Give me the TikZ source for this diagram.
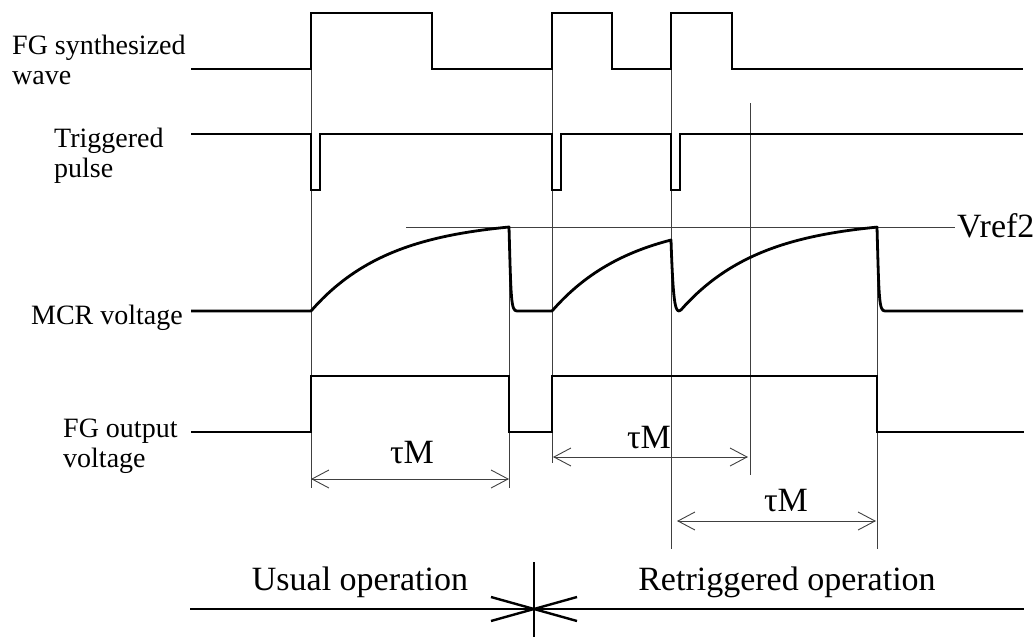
\documentclass[tikz,border=0pt]{standalone}
\usepackage{fontspec}
\setmainfont{Liberation Serif}
\usetikzlibrary{arrows.meta}
\begin{document}
\begin{tikzpicture}[x=1pt,y=-1pt,
  sig/.style={line width=2.8pt, line join=miter},
  guide/.style={line width=0.9pt, black!75},
  barb/.tip={Straight Barb[length=17pt,width=18pt,line width=0.9pt]},
  dim/.style={line width=0.9pt, black!75, barb-barb},
  lab/.style={font=\fontsize{28}{30}\selectfont, inner sep=0pt, anchor=base west},
  big/.style={font=\fontsize{34}{40}\selectfont, inner sep=0pt, anchor=base},
]
\useasboundingbox (0,0) rectangle (1036,637);

% guide lines
\draw[guide] (311,69) -- (311,488);
\draw[guide] (509,227) -- (509,488);
\draw[guide] (552,69) -- (552,463);
\draw[guide] (671,69) -- (671,549);
\draw[guide] (750,103) -- (750,475);
\draw[guide] (877,227) -- (877,549);
\draw[guide] (406,227) -- (955,227);

% FG synthesized wave
\draw[sig] (191,69) -- (311,69) -- (311,13) -- (432,13) -- (432,69) -- (552,69) -- (552,13) -- (612,13) -- (612,69) -- (671,69) -- (671,13) -- (732,13) -- (732,69) -- (1023,69);

% Triggered pulse
\draw[sig] (191,134) -- (311,134) -- (311,190) -- (320,190) -- (320,134) -- (552,134) -- (552,190) -- (561,190) -- (561,134) -- (671,134) -- (671,190) -- (680,190) -- (680,134) -- (1023,134);

% MCR voltage
\draw[sig, line join=round] (191,311) -- (311,311)
  -- plot[domain=0:198,samples=50] ({311+\x},{311-91.7*(1-exp(-\x/80))})
  .. controls (511,300) and (511,311) .. (517,311) -- (552,311)
  -- plot[domain=0:119,samples=40] ({552+\x},{311-91.7*(1-exp(-\x/80))})
  .. controls (673,300) and (675,311) .. (679,311)
  -- plot[domain=1:197,samples=50] ({680+\x},{311-91.7*(1-exp(-\x/80))})
  .. controls (879,300) and (879,311) .. (885,311) -- (1023,311);

% FG output voltage
\draw[sig] (191,432) -- (311,432) -- (311,376) -- (509,376) -- (509,432) -- (552,432) -- (552,376) -- (877,376) -- (877,432) -- (1024,432);

% dimension arrows
\coordinate (a1l) at (311,479); \coordinate (a1r) at (509,479);
\coordinate (a2l) at (553,457); \coordinate (a2r) at (748,457);
\coordinate (a3l) at (677,521); \coordinate (a3r) at (876,521);
\draw[dim] (a1l) -- (a1r);
\draw[dim] (a2l) -- (a2r);
\draw[dim] (a3l) -- (a3r);

% bottom operation line and cross
\draw[line width=2.4pt] (190,609) -- (1024,609);
\coordinate (cx) at (534,609);
\draw[line width=2.4pt] (534,562) -- (534,637);
\draw[line width=2.4pt] (491,597) -- (577,621);
\draw[line width=2.4pt] (491,621) -- (577,597);

% labels
\node[lab] (fg1) at (12,54) {FG synthesized};
\node[lab] (fg2) at (12,84) {wave};
\node[lab] (tp1) at (54,147) {Triggered};
\node[lab] (tp2) at (54,177) {pulse};
\node[lab, anchor=base east] (mcr) at (183,324) {MCR voltage};
\node[lab] (fo1) at (63,437) {FG output};
\node[lab] (fo2) at (63,467) {voltage};
\node[big, anchor=base west] (vref) at (957,237) {Vref2};
\node[big] (t1) at (412,463) {τM};
\node[big] (t2) at (649,448) {τM};
\node[big] (t3) at (786,511) {τM};
\node[big] (usual) at (360,590) {Usual operation};
\node[big] (retrig) at (787,590) {Retriggered operation};
\end{tikzpicture}
\end{document}
